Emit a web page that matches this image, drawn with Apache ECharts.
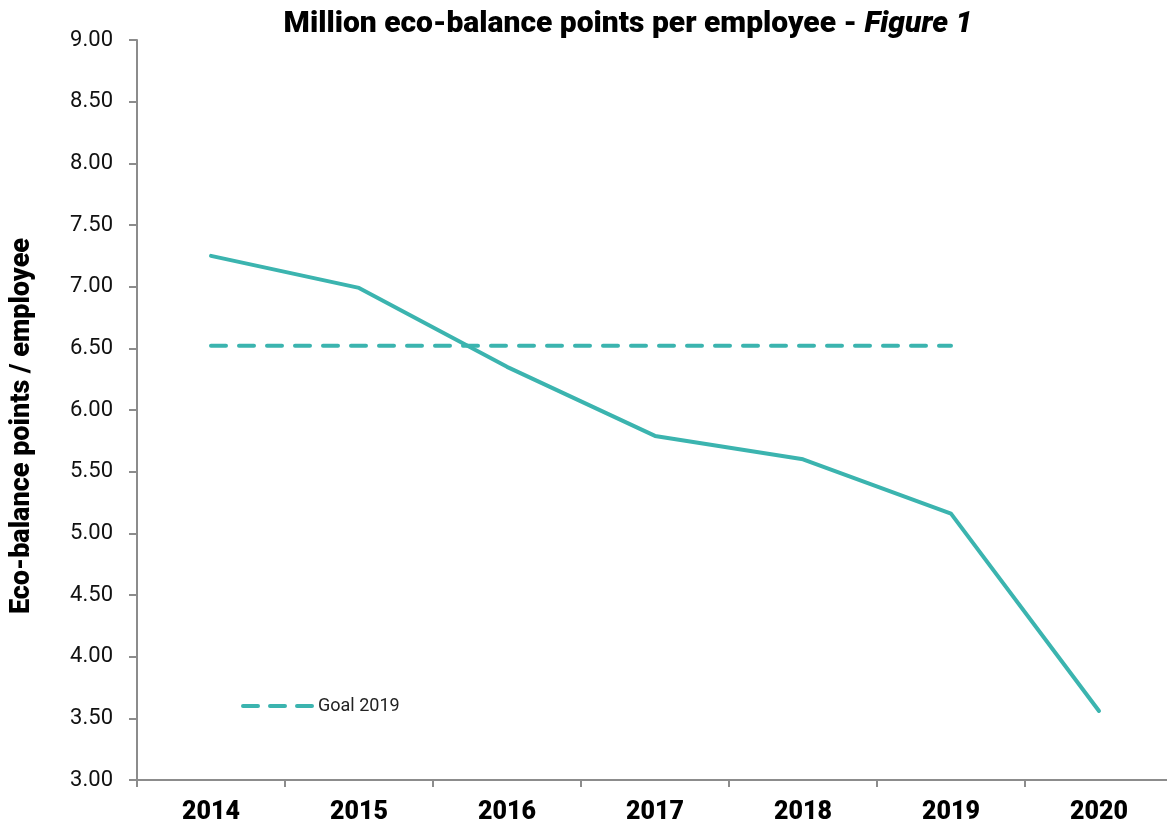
<!DOCTYPE html>
<html>
<head>
<meta charset="utf-8">
<script src="https://cdn.jsdelivr.net/npm/echarts@6/dist/echarts.min.js"></script>
<style>
html,body{margin:0;padding:0;background:#fff;}
#main{width:1167px;height:827px;}
</style>
</head>
<body>
<div id="main"></div>
<script>
const years = ['2014','2015','2016','2017','2018','2019','2020'];
const ecoPoints = [7.25, 6.99, 6.35, 5.79, 5.60, 5.16, 3.56];
const goal2019 = [6.52, 6.52, 6.52, 6.52, 6.52, 6.52, null];
const yTicks = { min: 3, max: 9, interval: 0.5 };

const teal = '#3bb4af';
const chart = echarts.init(document.getElementById('main'), null, {renderer:'canvas'});
chart.setOption({
  animation: false,
  backgroundColor: '#fff',
  title: {
    text: '{b|Million eco-balance points per employee - }{i|Figure 1}',
    left: 623, top: 4, textAlign: 'center',
    textStyle: {
      rich: {
        b: {fontFamily: 'Roboto', fontWeight: 900, fontSize: 30, color: '#000'},
        i: {fontFamily: 'Roboto', fontWeight: 900, fontStyle: 'italic', fontSize: 30, color: '#000'}
      }
    }
  },
  graphic: [{
    type: 'text',
    x: 22, y: 426,
    rotation: Math.PI / 2,
    style: {
      text: 'Eco-balance points / employee',
      fontFamily: 'Roboto', fontWeight: 900, fontSize: 27, fill: '#000',
      textAlign: 'center', textVerticalAlign: 'middle'
    }
  }],
  legend: {
    data: ['Goal 2019'],
    left: 236, top: 692,
    itemWidth: 70, itemHeight: 20, itemGap: 12,
    itemStyle: {opacity: 0},
    lineStyle: {width: 4, type: [15, 12], cap: 'round', opacity: 1},
    textStyle: {fontFamily: 'Roboto', fontSize: 18, color: '#222'}
  },
  grid: {left: 137, top: 40, width: 1036, bottom: 47, containLabel: false, outerBoundsMode: 'none'},
  xAxis: {
    type: 'category',
    data: years,
    boundaryGap: true,
    axisLine: {lineStyle: {color: '#8c8c8c', width: 2}},
    axisTick: {show: true, length: 7, lineStyle: {color: '#8c8c8c', width: 2}},
    axisLabel: {fontFamily: 'Roboto', fontWeight: 900, fontSize: 25, color: '#000', margin: 20}
  },
  yAxis: {
    type: 'value',
    min: yTicks.min, max: yTicks.max, interval: yTicks.interval,
    axisLine: {show: true, lineStyle: {color: '#8c8c8c', width: 2}},
    axisTick: {show: true, length: 8, lineStyle: {color: '#8c8c8c', width: 2}},
    splitLine: {show: false},
    axisLabel: {fontFamily: 'Roboto', fontSize: 22, color: '#111', margin: 24,
      formatter: v => v.toFixed(2)}
  },
  series: [
    {
      name: 'Eco-balance points',
      type: 'line',
      data: ecoPoints,
      symbol: 'none',
      lineStyle: {color: teal, width: 4, cap: 'round', join: 'round'},
      itemStyle: {color: teal}
    },
    {
      name: 'Goal 2019',
      type: 'line',
      data: goal2019,
      symbol: 'none',
      lineStyle: {color: teal, width: 4, type: [15, 13], cap: 'round'},
      itemStyle: {color: teal}
    }
  ]
});
</script>
</body>
</html>
